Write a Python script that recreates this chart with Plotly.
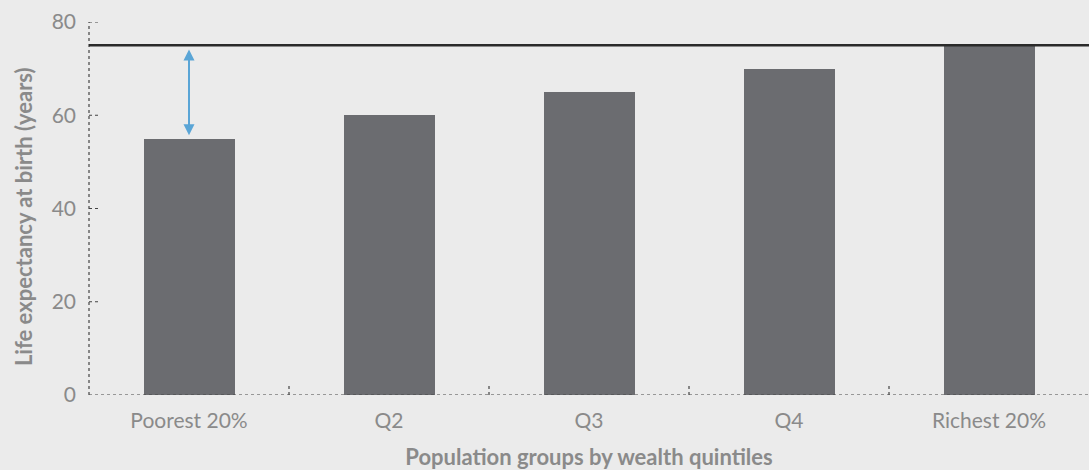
import plotly.graph_objects as go

categories = ["Poorest 20%", "Q2", "Q3", "Q4", "Richest 20%"]
life_expectancy = [55, 60, 65, 70, 75]
reference_level = 75
y_ticks = [0, 20, 40, 60, 80]

bg = "#ebebeb"
bar_color = "#6b6c70"
text_color = "#8a8a8a"
tick_font = "Lato, sans-serif"
title_font = "Lato, sans-serif"

fig = go.Figure()
fig.add_trace(go.Bar(x=list(range(len(categories))), y=life_expectancy,
                     marker=dict(color=bar_color, line=dict(width=0)),
                     width=0.455, hoverinfo="skip"))

shapes = []
# axis lines (dotted)
shapes.append(dict(type="line", xref="paper", yref="y", x0=0, x1=0, y0=0, y1=80,
                   line=dict(color="#444", width=1.2, dash="dot")))
shapes.append(dict(type="line", xref="paper", yref="y", x0=0, x1=1, y0=0, y1=0,
                   line=dict(color="#444", width=1.2, dash="dot")))
# y tick marks
for t in y_ticks[1:]:
    shapes.append(dict(type="line", xref="paper", yref="y", x0=0, x1=0.01, y0=t, y1=t,
                       line=dict(color="#444", width=1.2, dash="dot"), layer="below"))
# x tick marks between categories
for i in range(len(categories) - 1):
    shapes.append(dict(type="line", xref="x", yref="y", x0=i + 0.5, x1=i + 0.5, y0=0, y1=2.2,
                       line=dict(color="#444", width=1.2, dash="dot")))
# reference line
shapes.append(dict(type="line", xref="paper", yref="y", x0=0, x1=1,
                   y0=reference_level, y1=reference_level,
                   line=dict(color="#2a2a2a", width=2.5)))

fig.add_annotation(x=0, y=reference_level - 0.9, ax=0, ay=life_expectancy[0] + 0.4,
                   xref="x", yref="y", axref="x", ayref="y",
                   showarrow=True, arrowhead=2, arrowside="end+start",
                   arrowsize=1.1, arrowwidth=2, arrowcolor="#5aa5d6", text="")

# y-axis title as annotation for precise placement
fig.add_annotation(text="<b>Life expectancy at birth (years)</b>", textangle=-90,
                   xref="paper", yref="paper", x=0, y=0.477, xshift=-66,
                   xanchor="center", yanchor="middle", showarrow=False,
                   font=dict(family=title_font, size=22, color=text_color))

fig.update_layout(
    width=1089, height=470,
    margin=dict(l=89, r=0, t=22, b=75, pad=0),
    paper_bgcolor=bg, plot_bgcolor=bg,
    showlegend=False,
    shapes=shapes,
    font=dict(family=tick_font, color=text_color, size=21),
    xaxis=dict(range=[-0.5, len(categories) - 0.5], tickmode="array",
               tickvals=list(range(len(categories))), ticktext=categories,
               showgrid=False, zeroline=False, showline=False, ticks="",
               ticklabelstandoff=11,
               tickfont=dict(family=tick_font, size=21, color=text_color),
               title=dict(text="<b>Population groups by wealth quintiles</b>",
                          font=dict(family=title_font, size=22, color=text_color), standoff=19)),
    yaxis=dict(range=[0, 80], tickvals=y_ticks, showgrid=False, zeroline=False,
               showline=False, ticks="", ticklabelstandoff=12,
               tickfont=dict(family=tick_font, size=21, color=text_color)),
    bargap=0,
)

fig.write_html("out.html", config={"displayModeBar": False},
               post_script="document.body.style.margin='0';document.body.style.padding='0';")
